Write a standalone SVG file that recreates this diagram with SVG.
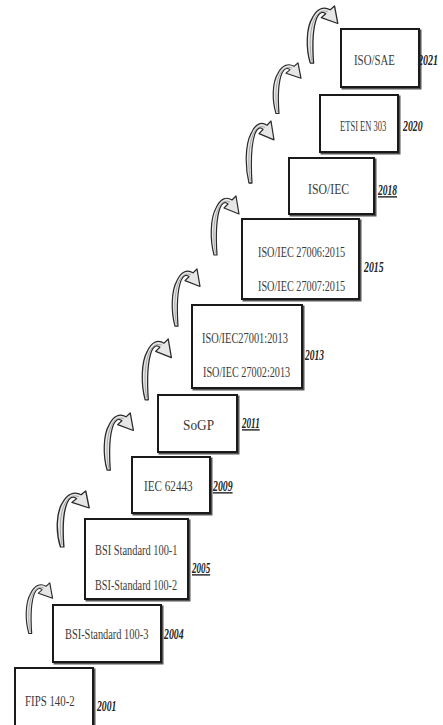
<svg xmlns="http://www.w3.org/2000/svg" width="443" height="725" viewBox="0 0 443 725">
<style>
.bg{fill:#ffffff}
.sh{fill:none;stroke:#555;stroke-width:2}
.bx{fill:#ffffff;stroke:#1a1a1a;stroke-width:2}
.t{font-family:"Liberation Serif","DejaVu Serif",serif;font-size:15.5px;fill:#3a3a3a}
.y{font-family:"Liberation Serif","DejaVu Serif",serif;font-size:14px;font-weight:bold;font-style:italic;fill:#222}
.u{text-decoration:underline}
.ar{fill:#e6e6e6;stroke:#2a2a2a;stroke-width:1.2;stroke-linejoin:round}
.ai{fill:none;stroke:#8a8a8a;stroke-width:0.7}
</style>
<defs>
<g id="arrow">
<path class="ar" d="M3 60 C-1 45,-1 24,5 13 C9 4,15 1,21 5 L25 1 L28 19 L13 13 L17 9 C14 6,11 8,9 13 C5 24,5 45,6 60 Z"/>
<path class="ai" d="M4.5 58 C2 45,2 25,7 14 C10 7,14 5,19 7"/>
</g>
</defs>
<rect class="bg" x="0" y="0" width="443" height="725"/>
<g id="connectors">
<use href="#arrow" transform="translate(26,582) scale(0.95,0.86)"/>
<use href="#arrow" transform="translate(57,490) scale(1.15,0.95)"/>
<use href="#arrow" transform="translate(104,412) scale(1.05,0.97)"/>
<use href="#arrow" transform="translate(142,338) scale(1.05,1.03)"/>
<use href="#arrow" transform="translate(172,268) scale(1.0,0.97)"/>
<use href="#arrow" transform="translate(211,195) scale(1.0,1.0)"/>
<use href="#arrow" transform="translate(246,120) scale(1.0,1.05)"/>
<use href="#arrow" transform="translate(273,62) scale(1.0,0.86)"/>
<use href="#arrow" transform="translate(307,5) scale(1.1,0.97)"/>
</g>
<g id="n2001">
<rect class="sh" x="16.5" y="669.5" width="78" height="70"/>
<rect class="bx" x="15" y="668" width="78" height="70"/>
<text class="t" transform="translate(25,706) scale(0.7,1)">FIPS 140-2</text>
<text class="y" transform="translate(97,711) scale(0.69,1)">2001</text>
</g>
<g id="n2004">
<rect class="sh" x="54.5" y="606.5" width="108" height="57"/>
<rect class="bx" x="53" y="605" width="108" height="57"/>
<text class="t" transform="translate(65,639) scale(0.67,1)">BSI-Standard 100-3</text>
<text class="y" transform="translate(164,639) scale(0.7,1)">2004</text>
</g>
<g id="n2005">
<rect class="sh" x="86.5" y="520.5" width="103" height="80"/>
<rect class="bx" x="85" y="519" width="103" height="80"/>
<text class="t" transform="translate(95,555) scale(0.67,1)">BSI Standard 100-1</text>
<text class="t" transform="translate(95,590) scale(0.66,1)">BSI-Standard 100-2</text>
<text class="y u" transform="translate(192,573) scale(0.65,1)">2005</text>
</g>
<g id="n2009">
<rect class="sh" x="133.5" y="458.5" width="78" height="56"/>
<rect class="bx" x="132" y="457" width="78" height="56"/>
<text class="t" transform="translate(144,491) scale(0.72,1)">IEC 62443</text>
<text class="y u" transform="translate(213,491) scale(0.7,1)">2009</text>
</g>
<g id="n2011">
<rect class="sh" x="159.5" y="396.5" width="79" height="57"/>
<rect class="bx" x="158" y="395" width="79" height="57"/>
<text class="t" transform="translate(183,430) scale(0.86,1)">SoGP</text>
<text class="y u" transform="translate(242,428) scale(0.65,1)">2011</text>
</g>
<g id="n2013">
<rect class="sh" x="193.5" y="306.5" width="110" height="83"/>
<rect class="bx" x="192" y="305" width="110" height="83"/>
<text class="t" transform="translate(202,343) scale(0.67,1)">ISO/IEC27001:2013</text>
<text class="t" transform="translate(203,377) scale(0.66,1)">ISO/IEC 27002:2013</text>
<text class="y" transform="translate(305,360) scale(0.68,1)">2013</text>
</g>
<g id="n2015">
<rect class="sh" x="243.5" y="220.5" width="117" height="80"/>
<rect class="bx" x="242" y="219" width="117" height="80"/>
<text class="t" transform="translate(258,257) scale(0.66,1)">ISO/IEC 27006:2015</text>
<text class="t" transform="translate(258,291) scale(0.66,1)">ISO/IEC 27007:2015</text>
<text class="y" transform="translate(364,272) scale(0.7,1)">2015</text>
</g>
<g id="n2018">
<rect class="sh" x="290.5" y="159.5" width="85" height="56"/>
<rect class="bx" x="289" y="158" width="85" height="56"/>
<text class="t" transform="translate(308,194) scale(0.76,1)">ISO/IEC</text>
<text class="y u" transform="translate(378,195) scale(0.68,1)">2018</text>
</g>
<g id="n2020">
<rect class="sh" x="321.5" y="96.5" width="78" height="57"/>
<rect class="bx" x="320" y="95" width="78" height="57"/>
<text class="t" transform="translate(340,131) scale(0.55,1)">ETSI EN 303</text>
<text class="y" transform="translate(403,131) scale(0.7,1)">2020</text>
</g>
<g id="n2021">
<rect class="sh" x="342.5" y="30.5" width="78" height="58"/>
<rect class="bx" x="341" y="29" width="78" height="58"/>
<text class="t" transform="translate(354,65) scale(0.7,1)">ISO/SAE</text>
<text class="y" transform="translate(418,65) scale(0.72,1)">2021</text>
</g>
</svg>
